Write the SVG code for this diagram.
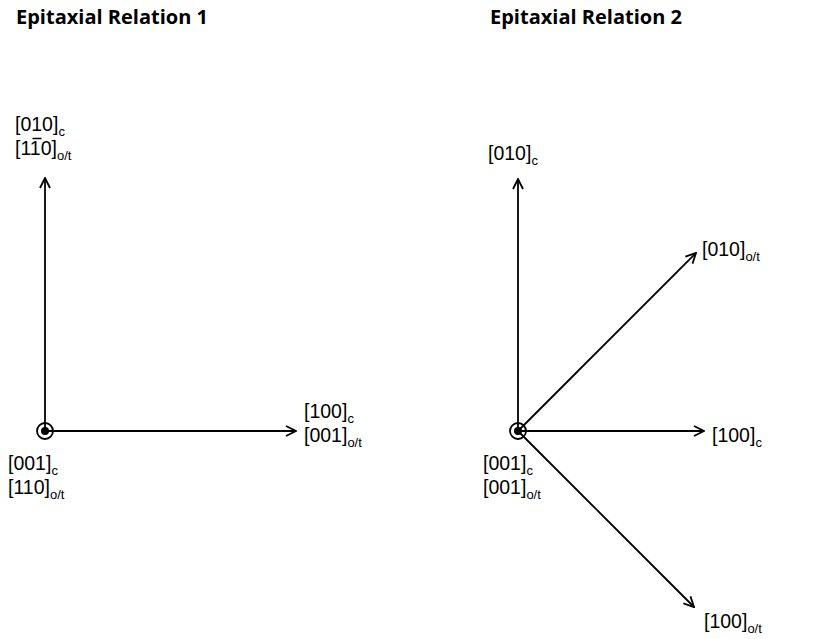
<svg xmlns="http://www.w3.org/2000/svg" width="840" height="639" viewBox="0 0 840 639">
<defs>
<style>
.t{font-family:"Liberation Sans",Arial,sans-serif;font-size:19.5px;fill:#000}
.s{font-size:13px}
.h{font-family:"Open Sans","Liberation Sans",sans-serif;font-size:20px;font-weight:bold;fill:#000}
.ax{stroke:#000;stroke-width:1.8;fill:none;marker-end:url(#arr)}
.ring{stroke:#000;stroke-width:1.8;fill:none}
</style>
<marker id="arr" viewBox="0 0 12 12" refX="11" refY="6" markerWidth="12" markerHeight="12" markerUnits="userSpaceOnUse" orient="auto">
<path d="M1,1 L11,6 L1,11" fill="none" stroke="#000" stroke-width="1.8"/>
</marker>
</defs>
<rect width="840" height="639" fill="#fff"/>
<text class="h" x="16" y="24">Epitaxial Relation 1</text>
<text class="h" x="490" y="24">Epitaxial Relation 2</text>
<g id="connectors">
<line class="ax" x1="45" y1="431" x2="45" y2="178"/>
<line class="ax" x1="45" y1="431" x2="296" y2="431"/>
<line class="ax" x1="518" y1="431" x2="518" y2="179"/>
<line class="ax" x1="518" y1="431" x2="696" y2="253"/>
<line class="ax" x1="518" y1="431" x2="704" y2="431"/>
<line class="ax" x1="518" y1="431" x2="694" y2="607"/>
</g>
<g id="origin1">
<circle class="ring" cx="45" cy="431" r="8"/>
<circle cx="45" cy="431" r="4" fill="#000"/>
</g>
<g id="origin2">
<circle class="ring" cx="518" cy="431" r="8"/>
<circle cx="518" cy="431" r="4" fill="#000"/>
</g>
<g id="label-r1-y">
<text class="t" x="15" y="131">[010]<tspan class="s" dy="5">c</tspan></text>
<text class="t" x="15" y="155">[110]<tspan class="s" dy="5">o/t</tspan></text>
<line x1="32.5" y1="138.5" x2="41.5" y2="138.5" stroke="#000" stroke-width="1.5"/>
</g>
<g id="label-r1-x">
<text class="t" x="304" y="418">[100]<tspan class="s" dy="5">c</tspan></text>
<text class="t" x="304" y="442">[001]<tspan class="s" dy="5">o/t</tspan></text>
</g>
<g id="label-r1-z">
<text class="t" x="8" y="470">[001]<tspan class="s" dy="5">c</tspan></text>
<text class="t" x="8" y="494">[110]<tspan class="s" dy="5">o/t</tspan></text>
</g>
<g id="label-r2-y">
<text class="t" x="488" y="160">[010]<tspan class="s" dy="5">c</tspan></text>
</g>
<g id="label-r2-diag-up">
<text class="t" x="702" y="256">[010]<tspan class="s" dy="5">o/t</tspan></text>
</g>
<g id="label-r2-x">
<text class="t" x="712" y="442">[100]<tspan class="s" dy="5">c</tspan></text>
</g>
<g id="label-r2-z">
<text class="t" x="483" y="470">[001]<tspan class="s" dy="5">c</tspan></text>
<text class="t" x="483" y="494">[001]<tspan class="s" dy="5">o/t</tspan></text>
</g>
<g id="label-r2-diag-down">
<text class="t" x="704" y="628">[100]<tspan class="s" dy="5">o/t</tspan></text>
</g>
</svg>
